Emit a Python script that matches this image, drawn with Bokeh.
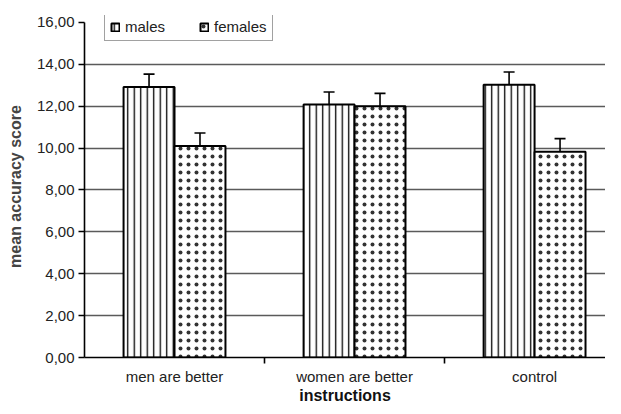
from bokeh.plotting import figure
from bokeh.models import (ColumnDataSource, Range1d, FixedTicker, Whisker, TeeHead,
                          Legend, LegendItem)
from bokeh.embed import file_html
from bokeh.resources import INLINE

categories = ["men are better", "women are better", "control"]
males = [12.92, 12.08, 13.02]
males_err = [0.61, 0.60, 0.61]
females = [10.10, 12.00, 9.83]
females_err = [0.62, 0.61, 0.62]
y_ticks = [0, 2, 4, 6, 8, 10, 12, 14, 16]
y_tick_labels = ["0,00", "2,00", "4,00", "6,00", "8,00", "10,00", "12,00", "14,00", "16,00"]

FONT = "Liberation Sans"
bar_w = 0.283
idx = list(range(len(categories)))
mx = [i + 0.5 - bar_w / 2 for i in idx]
fx = [i + 0.5 + bar_w / 2 for i in idx]

p = figure(width=605, height=406, output_backend="svg", toolbar_location=None,
           x_range=Range1d(0, 2.894), y_range=Range1d(0, 16.33),
           min_border_left=84, min_border_right=0, min_border_top=15, min_border_bottom=46)
p.outline_line_color = None
p.xgrid.grid_line_color = None
p.ygrid.grid_line_color = "#5a5a5a"
p.ygrid.grid_line_width = 1.3
p.ygrid.ticker = FixedTicker(ticks=y_ticks[1:-1])

ms = ColumnDataSource(dict(x=mx, top=males, up=[v + e for v, e in zip(males, males_err)],
                           lo=[v - e for v, e in zip(males, males_err)]))
fs = ColumnDataSource(dict(x=fx, top=females, up=[v + e for v, e in zip(females, females_err)],
                           lo=[v - e for v, e in zip(females, females_err)]))

rm = p.vbar(x="x", top="top", width=bar_w, bottom=0, source=ms, fill_color="white",
            line_color="black", line_width=2, hatch_pattern="vertical_line",
            hatch_color="black", hatch_scale=6.5, hatch_weight=1.3)
rf = p.vbar(x="x", top="top", width=bar_w, bottom=0, source=fs, fill_color="white",
            line_color="black", line_width=2, hatch_pattern="dot",
            hatch_color="#333333", hatch_scale=8, hatch_weight=1.0)

for src in (ms, fs):
    w = Whisker(base="x", upper="up", lower="lo", source=src, dimension="height",
                line_color="black", line_width=1.6,
                upper_head=TeeHead(size=11, line_color="black", line_width=1.6),
                lower_head=TeeHead(size=11, line_color="black", line_width=1.6))
    p.add_layout(w)

# y axis
p.yaxis.ticker = FixedTicker(ticks=y_ticks)
p.yaxis.bounds = (y_ticks[0], y_ticks[-1])
p.yaxis.major_label_overrides = {t: l for t, l in zip(y_ticks, y_tick_labels)}
p.yaxis.axis_label = "mean accuracy score"
p.yaxis.axis_label_text_font = FONT
p.yaxis.axis_label_text_font_style = "bold"
p.yaxis.axis_label_text_font_size = "16px"
p.yaxis.axis_label_standoff = 10
p.yaxis.major_label_text_font = FONT
p.yaxis.major_label_text_font_size = "15px"
p.yaxis.major_label_text_color = "#222222"
p.yaxis.major_label_standoff = 4
p.yaxis.major_tick_out = 6
p.yaxis.major_tick_in = 0
p.yaxis.minor_tick_out = 0
p.yaxis.minor_tick_in = 0
p.yaxis.axis_line_width = 1.6
p.yaxis.major_tick_line_width = 1.6

# x axis
p.xaxis.ticker = FixedTicker(ticks=[i + 0.5 for i in idx], minor_ticks=[i + 1 for i in idx])
p.xaxis.major_label_overrides = {i + 0.5: c for i, c in zip(idx, categories)}
p.xaxis.axis_label = "instructions"
p.xaxis.axis_label_text_font = FONT
p.xaxis.axis_label_text_font_style = "bold"
p.xaxis.axis_label_text_font_size = "16px"
p.xaxis.axis_label_text_color = "#111111"
p.xaxis.axis_label_standoff = -1
p.xaxis.major_label_text_font = FONT
p.xaxis.major_label_text_font_size = "15px"
p.xaxis.major_label_text_color = "#222222"
p.xaxis.major_label_standoff = 4
p.xaxis.major_tick_out = 0
p.xaxis.major_tick_in = 0
p.xaxis.minor_tick_out = 6
p.xaxis.minor_tick_in = 0
p.xaxis.minor_tick_line_width = 1.6
p.xaxis.axis_line_width = 1.6

legend = Legend(items=[LegendItem(label="males", renderers=[rm]),
                       LegendItem(label="females", renderers=[rf])],
                location=(20, 316), orientation="horizontal",
                border_line_color="#444444", border_line_width=1.3,
                padding=5, spacing=34, margin=0, label_standoff=5,
                glyph_width=10, glyph_height=10, label_height=16,
                label_text_font=FONT, label_text_font_size="15px",
                label_text_color="#222222", background_fill_color="white")
p.add_layout(legend, "center")

open("out.html", "w").write(file_html(p, INLINE))
